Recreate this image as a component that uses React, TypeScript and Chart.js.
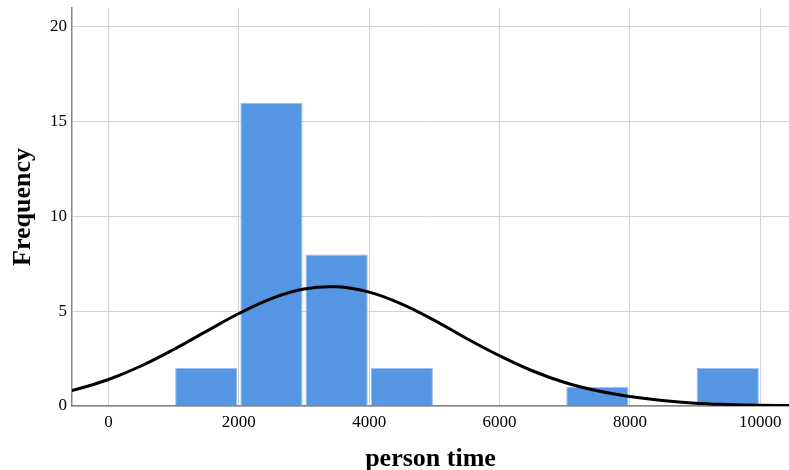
import React, { useEffect, useRef } from "react";
import { Chart, registerables } from "chart.js";

Chart.register(...registerables);

// Histogram bins (start of each 1000-wide bin) and their frequencies
const binStarts = [0, 1000, 2000, 3000, 4000, 5000, 6000, 7000, 8000, 9000];
const binCounts = [0, 2, 16, 8, 2, 0, 0, 1, 0, 2];
const binWidth = 1000;

// Normal curve overlay
const curveX = [-1000, -500, 0, 500, 1000, 1500, 2000, 2500, 3000, 3500, 4000, 4500, 5000, 5500, 6000, 6500, 7000, 7500, 8000, 8500, 9000, 9500, 10000, 10500, 11000];
const curveY = [0.51, 0.87, 1.4, 2.11, 2.98, 3.94, 4.88, 5.67, 6.17, 6.29, 6.01, 5.38, 4.52, 3.55, 2.65, 1.86, 1.24, 0.8, 0.5, 0.29, 0.15, 0.08, 0.04, 0.02, 0.01];

const xTicks = [0, 2000, 4000, 6000, 8000, 10000];
const yTicks = [0, 5, 10, 15, 20];

const xTitle = "person time";
const yTitle = "Frequency";

const FONT = "'Liberation Serif', 'Times New Roman', serif";

export default function App() {
  const ref = useRef<HTMLCanvasElement | null>(null);

  useEffect(() => {
    document.body.style.margin = "0";
    const canvas = ref.current;
    if (!canvas) return;

    const barData = binStarts
      .map((s, i) => ({ x: s + binWidth / 2, y: binCounts[i] }))
      .filter((d) => d.y > 0);
    const lineData = curveX.map((x, i) => ({ x, y: curveY[i] }));

    const chart = new Chart(canvas, {
      data: {
        datasets: [
          {
            type: "line",
            data: lineData,
            borderColor: "#000000",
            borderWidth: 3,
            pointRadius: 0,
            tension: 0.4,
            fill: false,
            order: 0,
          },
          {
            type: "bar",
            data: barData,
            backgroundColor: "#5596e3",
            borderColor: "#9dc0f0",
            borderWidth: { left: 1, right: 1, top: 1, bottom: 0 },
            borderSkipped: "bottom",
            barPercentage: 0.955,
            categoryPercentage: 1,
            order: 1,
          },
        ],
      } as any,
      options: {
        animation: false,
        responsive: false,
        maintainAspectRatio: false,
        layout: { padding: { top: 8, left: 0, right: 0, bottom: 0 } },
        plugins: { legend: { display: false }, tooltip: { enabled: false } },
        scales: {
          x: {
            type: "linear",
            offset: false,
            min: -560,
            max: 10440,
            afterBuildTicks: (scale: any) => {
              scale.ticks = xTicks.map((v) => ({ value: v }));
            },
            afterFit: (scale: any) => {
              scale.height = 64;
              scale.paddingLeft = 0;
              scale.paddingRight = 0;
            },
            grid: { color: "#d2d2d2", lineWidth: 1, drawTicks: false, offset: false },
            border: { color: "#858585", width: 1.5 },
            ticks: {
              color: "#000",
              padding: 6,
              maxRotation: 0,
              autoSkip: false,
              font: { family: FONT, size: 17 },
              callback: (v: any) => String(v),
            },
            title: {
              display: true,
              text: xTitle,
              color: "#000",
              font: { family: FONT, size: 26, weight: "bold", lineHeight: 0.85 },
              padding: { top: 0, bottom: 0 },
            },
          },
          y: {
            type: "linear",
            min: 0,
            max: 21,
            afterBuildTicks: (scale: any) => {
              scale.ticks = yTicks.map((v) => ({ value: v }));
            },
            afterFit: (scale: any) => {
              scale.width = 72;
              scale.paddingTop = 0;
              scale.paddingBottom = 0;
            },
            grid: { color: "#d2d2d2", lineWidth: 1, drawTicks: false },
            border: { color: "#858585", width: 1.5 },
            ticks: {
              color: "#000",
              padding: 5,
              font: { family: FONT, size: 17 },
              callback: (v: any) => String(v),
            },
            title: {
              display: true,
              text: yTitle,
              color: "#000",
              font: { family: FONT, size: 26, weight: "bold", lineHeight: 1 },
              padding: { top: 10, bottom: 10 },
            },
          },
        },
      } as any,
    });

    return () => chart.destroy();
  }, []);

  return (
    <div style={{ position: "absolute", left: 0, top: 0, width: 789, height: 470, background: "#fff" }}>
      <canvas ref={ref} width={789} height={470} style={{ width: 789, height: 470 }} />
    </div>
  );
}
